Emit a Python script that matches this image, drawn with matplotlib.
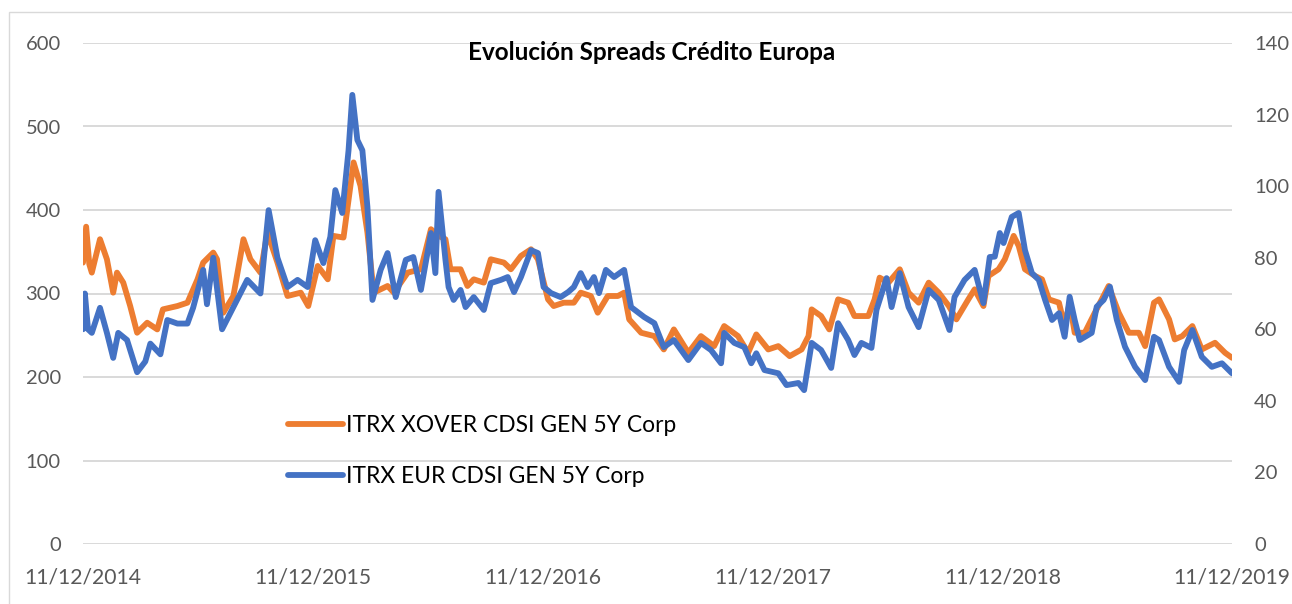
import matplotlib
matplotlib.use('Agg')
import matplotlib.pyplot as plt
import matplotlib.dates as mdates
from matplotlib.patches import Rectangle
import numpy as np

plt.rcParams['font.family'] = ['Lato', 'DejaVu Sans']

start = np.datetime64('2014-12-11')
tick_years = [2014, 2015, 2016, 2017, 2018, 2019]

# days since 11/12/2014
xover_days = [0, 5, 10, 14, 27, 38, 48, 54, 64, 75,
              86, 102, 118, 127, 150, 166, 182, 191, 207, 213,
              223, 239, 255, 266, 282, 293, 309, 325, 346, 358,
              373, 389, 398, 414, 430, 441, 452, 462, 484, 494,
              516, 537, 553, 565, 576, 584, 600, 611, 621, 637,
              648, 669, 680, 696, 712, 723, 739, 748, 764, 780,
              791, 807, 818, 834, 850, 860, 868, 887, 908, 923,
              939, 962, 982, 1003, 1019, 1041, 1057, 1070, 1089, 1105,
              1123, 1142, 1153, 1158, 1173, 1186, 1200, 1216, 1226, 1248,
              1258, 1266, 1280, 1298, 1312, 1328, 1344, 1360, 1376, 1388,
              1407, 1417, 1431, 1439, 1455, 1465, 1479, 1487, 1497, 1513,
              1524, 1535, 1551, 1560, 1568, 1576, 1592, 1608, 1630, 1646,
              1662, 1678, 1688, 1702, 1710, 1726, 1735, 1747, 1763, 1778,
              1799, 1815, 1826]
xover = [337, 380, 335, 325, 365, 341, 301, 325, 313, 285,
         253, 265, 257, 281, 285, 289, 317, 337, 349, 341,
         277, 297, 365, 341, 325, 373, 337, 297, 301, 285,
         333, 317, 369, 367, 457, 429, 373, 301, 309, 301,
         325, 329, 377, 369, 365, 329, 329, 309, 317, 313,
         341, 337, 329, 345, 353, 341, 293, 285, 289, 289,
         301, 297, 277, 297, 297, 301, 269, 253, 249, 233,
         257, 229, 249, 237, 261, 249, 229, 251, 233, 237,
         225, 233, 249, 281, 273, 257, 293, 289, 273, 273,
         293, 319, 313, 329, 301, 289, 313, 301, 285, 269,
         293, 305, 285, 321, 329, 341, 369, 357, 329, 321,
         317, 293, 289, 261, 289, 253, 253, 277, 309, 277,
         253, 253, 237, 289, 293, 269, 245, 249, 261, 233,
         241, 229, 223]

eur_days = [0, 3, 8, 14, 27, 38, 48, 56, 70, 86,
            99, 107, 123, 134, 150, 166, 175, 191, 197, 207,
            221, 234, 250, 261, 282, 295, 309, 325, 341, 357,
            369, 382, 393, 401, 412, 422, 428, 436, 444, 452,
            460, 473, 484, 497, 513, 525, 537, 553, 560, 565,
            576, 581, 589, 600, 608, 621, 637, 648, 664, 675,
            685, 696, 712, 723, 732, 744, 759, 771, 780, 791,
            802, 812, 820, 831, 844, 860, 871, 892, 908, 923,
            939, 962, 982, 998, 1014, 1019, 1035, 1051, 1062, 1070,
            1083, 1105, 1118, 1137, 1146, 1158, 1173, 1189, 1200, 1216,
            1226, 1237, 1253, 1261, 1277, 1285, 1298, 1312, 1328, 1344,
            1360, 1377, 1385, 1401, 1417, 1431, 1441, 1449, 1457, 1463,
            1476, 1487, 1497, 1508, 1519, 1529, 1540, 1551, 1560, 1568,
            1576, 1584, 1603, 1611, 1622, 1632, 1643, 1656, 1672, 1688,
            1702, 1710, 1726, 1742, 1750, 1763, 1778, 1794, 1810, 1826]
eur = [60, 70, 60, 59, 66, 59, 52, 59, 57, 48,
       51, 56, 53, 62.6, 61.6, 61.6, 66, 76.6, 67, 80,
       60, 64.5, 70, 73.8, 70, 93.3, 80, 71.8, 73.8, 71.8,
       84.9, 78.5, 85.8, 98.9, 92.5, 110, 125.5, 112.9, 110, 94.2,
       68.2, 76.6, 81.3, 69, 79.4, 80.2, 71, 86.9, 75.7, 98.4,
       79.4, 71.8, 68.2, 71, 66.2, 69, 65.4, 72.9, 73.8, 74.6,
       70.4, 74.6, 82.1, 81.3, 71.8, 70.1, 69, 70.4, 71.8, 75.7,
       71.8, 74.6, 70.1, 76.6, 74.6, 76.6, 66.2, 63.4, 61.7, 55,
       57, 51.4, 56.2, 54.2, 50.5, 59, 56.2, 55, 50.5, 53.3,
       48.6, 47.7, 44.4, 45, 43, 56.2, 54.2, 49.2, 61.7, 57,
       52.8, 56.2, 54.8, 65.4, 74.3, 66.2, 75.7, 66.2, 60.6, 71,
       68.2, 59.8, 69, 73.8, 76.6, 67.3, 80.2, 80.3, 86.9, 84.1,
       91.4, 92.5, 82.1, 75.7, 73.8, 68.2, 62.6, 64.5, 57.9, 69.1,
       62.6, 57, 59, 66.3, 68.2, 71.9, 62.6, 55.1, 49.5, 45.8,
       57.9, 57, 49.5, 45.3, 54.2, 59.8, 52.3, 49.5, 50.5, 47.7]

xover_dates = start + np.array(xover_days, dtype='timedelta64[D]')
eur_dates = start + np.array(eur_days, dtype='timedelta64[D]')
ticks = [np.datetime64('%d-12-11' % y) for y in tick_years]

W, H = 1292, 604
fig = plt.figure(figsize=(W / 100, H / 100), dpi=100)
ax = fig.add_axes([83 / W, 1 - 544 / H, (1232 - 83) / W, (544 - 43) / H])
ax2 = ax.twinx()

ax.plot(xover_dates, xover, color='#ED7D31', lw=4.2, solid_joinstyle='round',
        solid_capstyle='round', label='ITRX XOVER CDSI GEN 5Y Corp', zorder=3)
ax2.plot(eur_dates, eur, color='#4472C4', lw=4.2, solid_joinstyle='round',
         solid_capstyle='round', label='ITRX EUR CDSI GEN 5Y Corp', zorder=3)

ax.set_ylim(0, 600)
ax.set_yticks(range(0, 601, 100))
ax2.set_ylim(0, 140)
ax2.set_yticks(range(0, 141, 20))
ax.set_xlim(ticks[0], ticks[-1])
ax.set_xticks(ticks)
ax.xaxis.set_major_formatter(mdates.DateFormatter('%d/%m/%Y'))

ax.grid(axis='y', color='#d9d9d9', lw=1.4)
ax.set_axisbelow(True)
for a in (ax, ax2):
    for s in a.spines.values():
        s.set_visible(False)
ax.tick_params(axis='y', length=0, pad=16, labelsize=14.5, labelcolor='#595959')
ax.tick_params(axis='x', length=0, pad=17, labelsize=15.2, labelcolor='#595959')
ax2.tick_params(axis='y', length=0, pad=16, labelsize=14.5, labelcolor='#595959')

fig.text(652 / W, 1 - 52 / H, 'Evolución Spreads Crédito Europa', ha='center', va='center',
         fontsize=17.5, fontweight='bold', color='black')

h1, l1 = ax.get_legend_handles_labels()
h2, l2 = ax2.get_legend_handles_labels()
fig.legend(h1 + h2, l1 + l2, loc='upper left', bbox_to_anchor=(288 / W, 1 - 415 / H),
           frameon=False, fontsize=16.4, handlelength=2.4, handletextpad=0.15,
           labelspacing=1.3, borderpad=0, borderaxespad=0)

fig.add_artist(Rectangle((9 / W, -0.1), 1.2, 1.1 - 12 / H, transform=fig.transFigure,
                         fill=False, edgecolor='#d9d9d9', lw=1))

fig.savefig('out.png', dpi=100)
